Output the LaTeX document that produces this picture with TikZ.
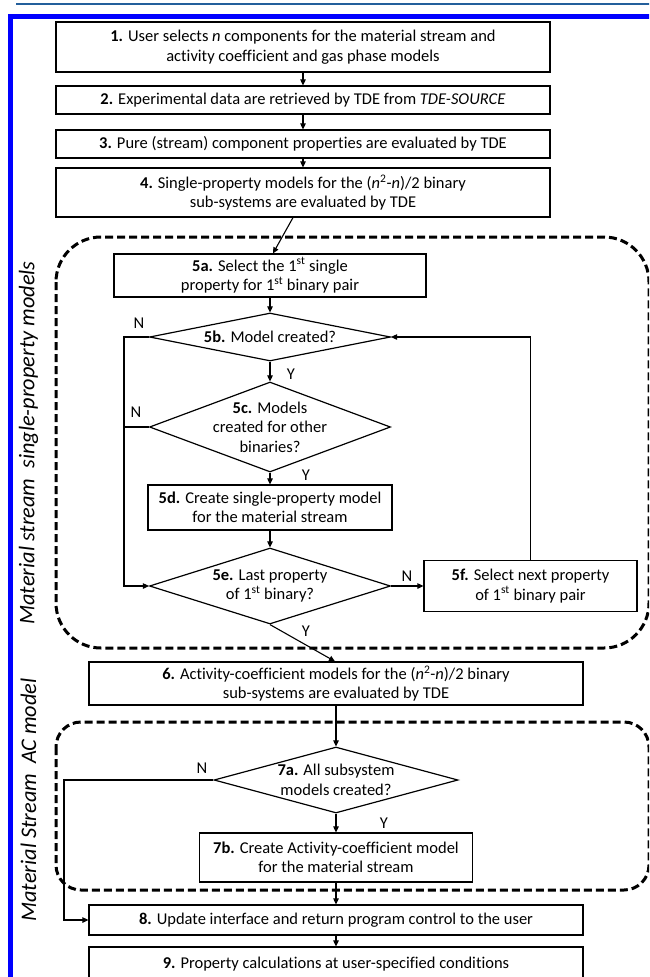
\documentclass[tikz,border=0pt]{standalone}
\usepackage{fontspec}
\setmainfont[Ligatures=NoCommon]{Carlito}
\usetikzlibrary{shapes.geometric,arrows.meta}
\definecolor{topblue}{RGB}{35,95,155}
\definecolor{frameblue}{RGB}{0,0,255}
\begin{document}
\begin{tikzpicture}[x=1pt,y=-1pt,
  every node/.style={font=\fontsize{16.5}{19.5}\selectfont},
  box/.style={draw, fill=white, line width=1.2pt, align=center, inner sep=0pt},
  dia/.style={draw, diamond, fill=white, line width=1.2pt, inner sep=0pt},
  txt/.style={align=center, inner sep=0pt},
  lab/.style={inner sep=0pt},
  conn/.style={line width=1.1pt, -{Triangle[length=6pt,width=5.5pt]}},
  seg/.style={line width=1.1pt},
  region/.style={line width=3pt, dash pattern=on 8pt off 4pt, rounded corners=#1},
  side/.style={rotate=90, font=\fontsize{22.3}{26}\selectfont\itshape, inner sep=0pt},
]
\useasboundingbox (0,0) rectangle (649,977);
\clip (0,0) rectangle (649,977);

% frame
\draw[line width=2.5pt, topblue] (16,4) -- (652,4);
\draw[line width=5pt, frameblue, line join=miter] (10.5,985) -- (10.5,16.5) -- (655,16.5);

% side labels
\node[side] (lab1) at (28.5,443) {Material stream\ \ single-property models};
\node[side] (lab2) at (28.5,800) {Material Stream\ \ AC model};

% dashed regions
\draw[region=45pt] (56,237) rectangle (649,648);
\draw[region=25pt] (56,722) rectangle (649,890);

% boxes
\node[box, minimum width=494pt, minimum height=50pt] (b1) at (303,47)
  {\textbf{1.} User selects \textit{n} components for the material stream and\\ activity coefficient and gas phase models};
\node[box, minimum width=494pt, minimum height=28pt] (b2) at (303,100)
  {\textbf{2.} Experimental data are retrieved by TDE from \textit{TDE-SOURCE}};
\node[box, minimum width=494pt, minimum height=28pt] (b3) at (303,144)
  {\textbf{3.} Pure (stream) component properties are evaluated by TDE};
\node[box, minimum width=494pt, minimum height=49pt] (b4) at (303,192.5)
  {\textbf{4.} Single-property models for the (\textit{n}\textsuperscript{2}-\textit{n})/2 binary\\ sub-systems are evaluated by TDE};

\node[box, minimum width=312pt, minimum height=43pt] (n5a) at (270,275.5)
  {\textbf{5a.} Select the 1\textsuperscript{st} single\\ property for 1\textsuperscript{st} binary pair};

\node[dia, minimum width=241pt, minimum height=48pt] (d5b) at (270,337) {};
\node[txt] (t5b) at (d5b) {\textbf{5b.} Model created?};

\node[dia, minimum width=241pt, minimum height=90pt] (d5c) at (270,427) {};
\node[txt] (t5c) at (d5c) {\textbf{5c.} Models\\ created for other\\ binaries?};

\node[box, minimum width=244pt, minimum height=45pt] (n5d) at (270,507.5)
  {\textbf{5d.} Create single-property model\\ for the material stream};

\node[dia, minimum width=241pt, minimum height=76pt] (d5e) at (270,586) {};
\node[txt] (t5e) at (d5e) {\textbf{5e.} Last property\\ of 1\textsuperscript{st} binary?};

\node[box, minimum width=213pt, minimum height=51pt] (n5f) at (530.5,586)
  {\textbf{5f.} Select next property\\ of 1\textsuperscript{st} binary pair};

\node[box, minimum width=494pt, minimum height=43pt] (n6) at (336,683.5)
  {\textbf{6.} Activity-coefficient models for the (\textit{n}\textsuperscript{2}-\textit{n})/2 binary\\ sub-systems are evaluated by TDE};

\node[dia, minimum width=244pt, minimum height=66pt] (d7a) at (336,780) {};
\node[txt] (t7a) at (d7a) {\textbf{7a.} All subsystem\\ models created?};

\node[box, minimum width=273pt, minimum height=49pt] (n7b) at (336,857.5)
  {\textbf{7b.} Create Activity-coefficient model\\ for the material stream};

\node[box, minimum width=494pt, minimum height=30pt] (n8) at (336,920)
  {\textbf{8.} Update interface and return program control to the user};
\node[box, minimum width=494pt, minimum height=34pt] (n9) at (336,964)
  {\textbf{9.} Property calculations at user-specified conditions};

% junction columns
\coordinate (jl) at (124,0);
\coordinate (jl2) at (64,0);

% connectors
\draw[conn] (b1.south) -- (b2.north);
\draw[conn] (b2.south) -- (b3.north);
\draw[conn] (b3.south) -- (b4.north);
\draw[conn] ([xshift=-10pt]b4.south) -- ([xshift=3pt]n5a.north);
\draw[conn] (n5a.south) -- (d5b.north);
\draw[conn] (d5b.south) -- (d5c.north);
\draw[conn] (d5b.west) -- (d5b.west -| jl) -- (d5e.west -| jl) -- (d5e.west);
\draw[seg] (d5c.west) -- (d5c.west -| jl);
\draw[conn] (d5c.south) -- (n5d.north);
\draw[conn] (n5d.south) -- (d5e.north);
\draw[conn] (d5e.east) -- (d5e.east -| n5f.west);
\draw[conn] (n5f.north) -- (n5f.north |- d5b.east) -- (d5b.east);
\draw[conn] (d5e.south) -- ([xshift=-1pt]n6.north);
\draw[conn] (n6.south) -- (d7a.north);
\draw[conn] (d7a.west) -- (d7a.west -| jl2) -- (n8.west -| jl2) -- (n8.west);
\draw[conn] (d7a.south) -- (n7b.north);
\draw[conn] (n7b.south) -- (n8.north);
\draw[conn] (n8.south) -- (n9.north);

% N / Y labels
\node[lab] (l1) at (139,323) {N};
\node[lab] (l2) at (136,412) {N};
\node[lab] (l3) at (291,374) {Y};
\node[lab] (l4) at (306,475) {Y};
\node[lab] (l5) at (407,576) {N};
\node[lab] (l6) at (306,631) {Y};
\node[lab] (l7) at (202,768) {N};
\node[lab] (l8) at (384,823) {Y};
\end{tikzpicture}
\end{document}
